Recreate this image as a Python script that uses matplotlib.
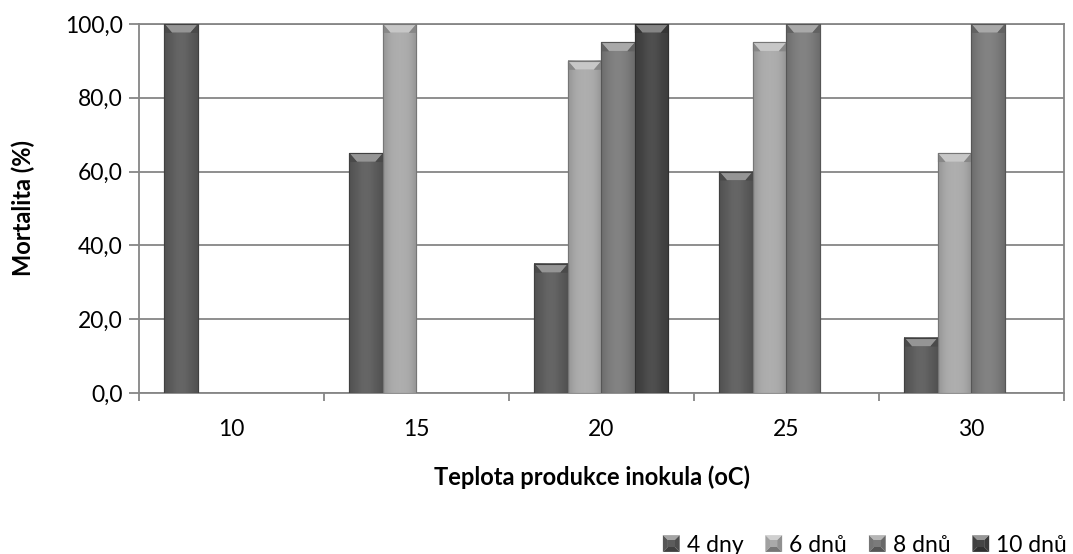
import numpy as np
import matplotlib
matplotlib.use("Agg")
import matplotlib.pyplot as plt
from matplotlib.patches import Polygon, Patch
from matplotlib.legend_handler import HandlerBase
from matplotlib.colors import to_rgb

plt.rcParams['font.family'] = ['Lato', 'DejaVu Sans']

categories = ['10', '15', '20', '25', '30']
series_names = ['4 dny', '6 dnů', '8 dnů', '10 dnů']
nan = np.nan
values = {
    '4 dny':  [100, 65, 35, 60, 15],
    '6 dnů':  [nan, 100, 90, 95, 65],
    '8 dnů':  [nan, nan, 95, 100, 100],
    '10 dnů': [nan, nan, 100, nan, nan],
}
colors = ['#5c5c5c', '#a9a9a9', '#7b7b7b', '#444444']
y_ticks = [0, 20, 40, 60, 80, 100]

FS = 16.5
FS_LABEL = 17

fig = plt.figure(figsize=(10.73, 5.54), dpi=100)
ax = fig.add_axes([0.1295, 0.2906, 0.8620, 0.6661])

n = len(series_names)
bar_w = 0.181
x = np.arange(len(categories))
offsets = (np.arange(n) - (n - 1) / 2) * bar_w


def shade(c, f):
    r = np.array(to_rgb(c))
    if f >= 0:
        return tuple(r + (1 - r) * f)
    return tuple(r * (1 + f))


bevel = 2.3
for i, name in enumerate(series_names):
    vals = np.array(values[name], dtype=float)
    base = colors[i]
    bars = ax.bar(x + offsets[i], np.nan_to_num(vals), width=bar_w, color=base,
                  edgecolor=shade(base, -0.25), linewidth=0.8, zorder=3)
    for b, v in zip(bars, vals):
        if np.isnan(v):
            b.set_visible(False)
            continue
        x0, w, h = b.get_x(), b.get_width(), b.get_height()
        # horizontal shading across the bar face
        t = np.linspace(0, 1, 64)
        prof = 0.18 * np.sin(np.pi * t) - 0.12
        rgb = np.array([shade(base, p) for p in prof])[None, :, :]
        ax.imshow(rgb, extent=(x0, x0 + w, 0, h), aspect='auto',
                  zorder=3.5, interpolation='bilinear')
        # bevelled top
        inset = w * 0.22
        ax.add_patch(Polygon([(x0, h), (x0 + w, h), (x0 + w - inset, h - bevel),
                              (x0 + inset, h - bevel)], closed=True,
                             facecolor=shade(base, 0.35), edgecolor='none', zorder=3.7))
        ax.add_patch(Polygon([(x0, h), (x0 + inset, h - bevel), (x0 + inset, h - bevel * 1.05),
                              (x0, h - bevel * 1.05)], closed=True,
                             facecolor=shade(base, -0.2), edgecolor='none', zorder=3.7))
        ax.add_patch(Polygon([(x0 + w, h), (x0 + w - inset, h - bevel),
                              (x0 + w - inset, h - bevel * 1.05), (x0 + w, h - bevel * 1.05)],
                             closed=True, facecolor=shade(base, -0.2),
                             edgecolor='none', zorder=3.7))
        ax.plot([x0, x0 + w, x0 + w, x0, x0], [0, 0, h, h, 0],
                color=shade(base, -0.3), lw=0.8, zorder=3.8)

ax.set_xlim(-0.5, len(categories) - 0.5)
ax.set_ylim(0, 100)
ax.set_yticks(y_ticks)
ax.set_yticklabels([f"{v:.1f}".replace('.', ',') for v in y_ticks])
ax.yaxis.grid(True, color='#868686', linewidth=1.3, zorder=0)
ax.set_axisbelow(True)

ax.set_xticks(x)
ax.set_xticklabels(categories)
ax.set_xticks(np.arange(len(categories) + 1) - 0.5, minor=True)
ax.tick_params(axis='x', which='major', length=0, pad=19, labelsize=FS)
ax.tick_params(axis='x', which='minor', length=5.5, width=1.3, color='#868686')
ax.tick_params(axis='y', length=7, width=1.3, color='#868686', pad=4.5, labelsize=FS)

for side in ['left', 'bottom', 'right', 'top']:
    ax.spines[side].set_color('#868686')
    ax.spines[side].set_linewidth(1.3)

ax.set_ylabel('Mortalita (%)', fontsize=FS_LABEL, fontweight='bold', va='center')
ax.yaxis.set_label_coords((23 - 139) / 924, 0.5)
ax.set_xlabel('Teplota produkce inokula (oC)', fontsize=FS_LABEL, fontweight='bold',
              va='center')
ax.xaxis.set_label_coords((592 - 139) / 924, (393 - 477) / 369)


class BevelSquare(HandlerBase):
    """Small square legend key with a pyramid-style bevel."""

    def create_artists(self, legend, orig_handle, xdescent, ydescent, width, height,
                       fontsize, trans):
        c = orig_handle.get_facecolor()
        s = min(width, height)
        x0 = -xdescent + (width - s) / 2
        y0 = -ydescent + (height - s) / 2
        k = s * 0.3
        out = [(x0, y0), (x0 + s, y0), (x0 + s, y0 + s), (x0, y0 + s)]
        inn = [(x0 + k, y0 + k), (x0 + s - k, y0 + k), (x0 + s - k, y0 + s - k),
               (x0 + k, y0 + s - k)]
        faces = [
            ([out[3], out[2], inn[2], inn[3]], shade(c, 0.45)),   # top
            ([out[0], out[3], inn[3], inn[0]], shade(c, -0.05)),  # left
            ([out[1], out[2], inn[2], inn[1]], shade(c, -0.15)),  # right
            ([out[0], out[1], inn[1], inn[0]], shade(c, -0.3)),   # bottom
            (inn, c),
        ]
        arts = []
        for pts, col in faces:
            p = Polygon(pts, closed=True, facecolor=col, edgecolor='none', transform=trans)
            arts.append(p)
        return arts


handles = [Patch(facecolor=colors[i]) for i in range(n)]
fig.legend(handles, series_names, loc='center right',
           bbox_to_anchor=(1067 / 1073, 1 - 545 / 554),
           ncol=n, frameon=False, fontsize=FS, handlelength=0.75, handleheight=0.75,
           handletextpad=0.3, columnspacing=0.95, borderaxespad=0, borderpad=0,
           handler_map={Patch: BevelSquare()})

fig.savefig('out.png', dpi=100, facecolor='white')
